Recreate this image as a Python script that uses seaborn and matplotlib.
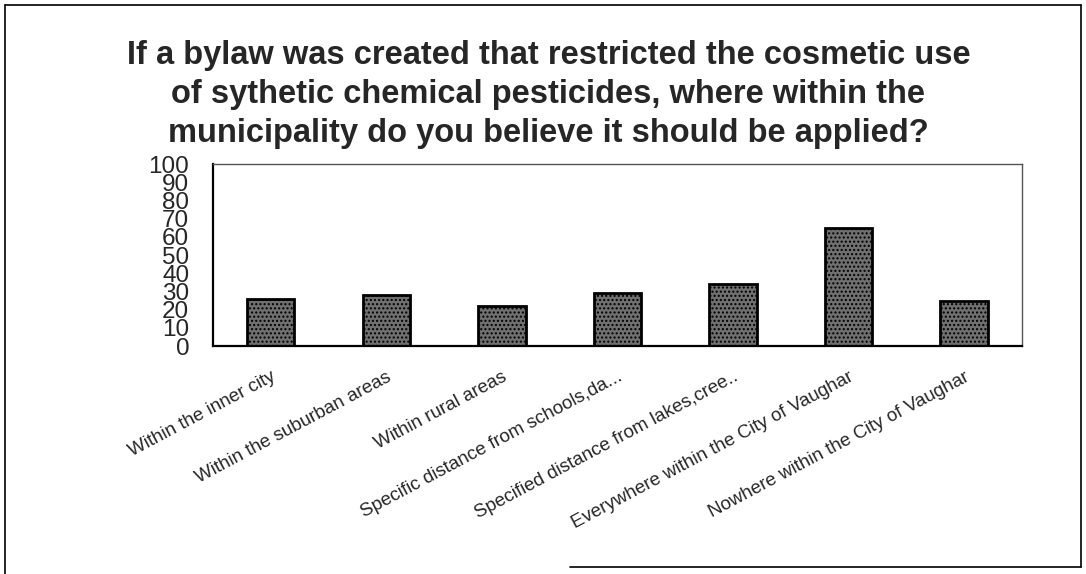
import matplotlib
matplotlib.use("Agg")
import matplotlib.pyplot as plt
import seaborn as sns
import pandas as pd
from matplotlib.lines import Line2D

categories = [
    "Within the inner city",
    "Within the suburban areas",
    "Within rural areas",
    "Specific distance from schools,da...",
    "Specified distance from lakes,cree..",
    "Everywhere within the City of Vaughar",
    "Nowhere within the City of Vaughar",
]
values = [26, 28, 22, 29, 34, 65, 25]
yticks = list(range(0, 101, 10))

title = ("If a bylaw was created that restricted the cosmetic use\n"
         "of sythetic chemical pesticides, where within the\n"
         "municipality do you believe it should be applied?")

sns.set_style("white")
plt.rcParams['font.family'] = ['Liberation Sans', 'DejaVu Sans']

df = pd.DataFrame({"category": categories, "value": values})

fig = plt.figure(figsize=(10.86, 5.74), dpi=100)
ax = fig.add_axes([0.196, 0.397, 0.745, 0.317])

sns.barplot(data=df, x="category", y="value", color="#6e6e6e",
            width=0.41, edgecolor="black", linewidth=2, ax=ax)
for p in ax.patches:
    p.set_hatch("....")
    p.set_facecolor("#707070")

ax.set_ylim(0, 100)
ax.set_xlim(-0.5, len(categories) - 0.5)
ax.set_yticks(yticks)
ax.set_yticklabels([str(t) for t in yticks], fontsize=17.5)
ax.set_xlabel("")
ax.set_ylabel("")

# tick marks sit between the categories
ax.set_xticks([i - 0.5 for i in range(len(categories) + 1)], minor=True)
ax.set_xticks(range(len(categories)))
ax.set_xticklabels(categories, rotation=28, ha="right", rotation_mode="anchor",
                   fontsize=13.5)
ax.tick_params(axis="x", which="major", length=0, pad=16)
ax.tick_params(axis="x", which="minor", length=9, width=1.2, direction="out",
               color="black")
ax.tick_params(axis="y", length=6, width=1.2, direction="out", color="black", pad=11)

for side in ["left", "bottom"]:
    ax.spines[side].set_color("black")
    ax.spines[side].set_linewidth(1.6)
for side in ["top", "right"]:
    ax.spines[side].set_color("#555555")
    ax.spines[side].set_linewidth(1.0)

fig.text(0.505, 0.93, title, ha="center", va="top", fontsize=23.5,
         fontweight="bold", linespacing=1.33)

# page frame (bottom edge only shows on the right half)
frame = dict(color="black", linewidth=1.2, transform=fig.transFigure)
fig.add_artist(Line2D([0.005, 0.995], [0.991, 0.991], **frame))
fig.add_artist(Line2D([0.005, 0.005], [0.0, 0.991], **frame))
fig.add_artist(Line2D([0.995, 0.995], [0.012, 0.991], **frame))
fig.add_artist(Line2D([0.525, 0.995], [0.012, 0.012], **frame))

fig.savefig("out.png", dpi=100)
